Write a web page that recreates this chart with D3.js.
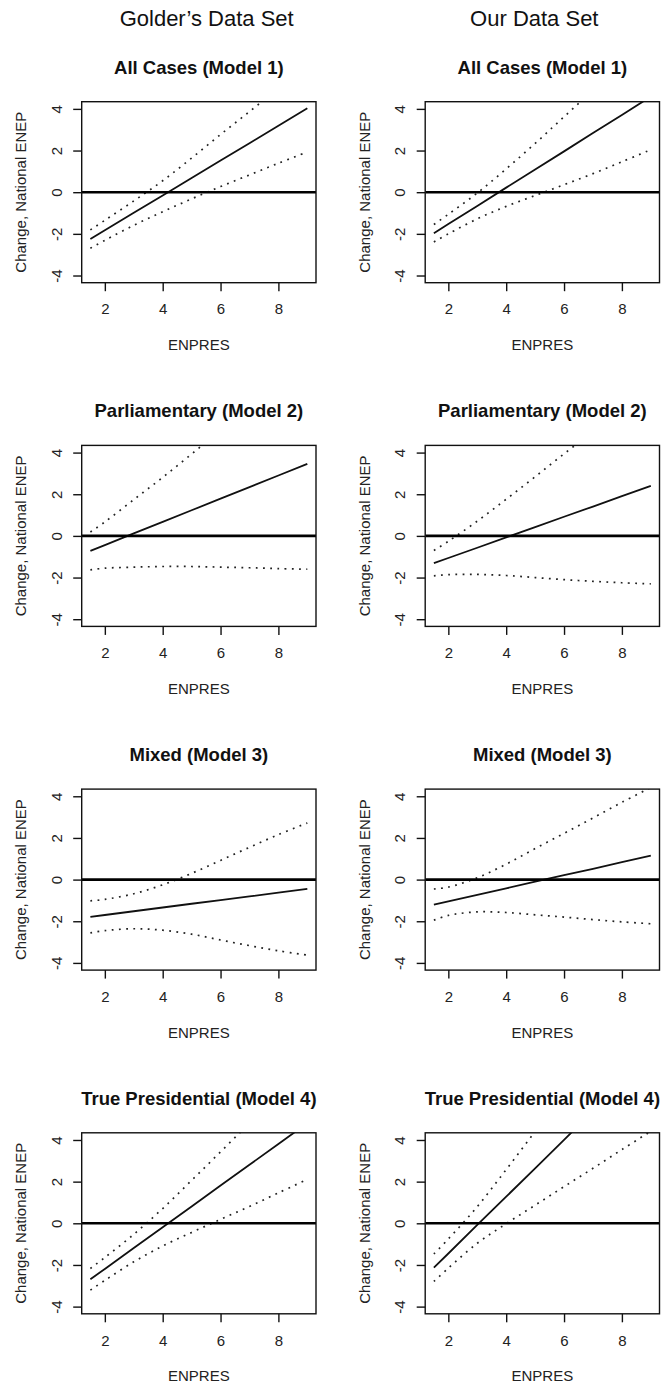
<!DOCTYPE html>
<html>
<head>
<meta charset="utf-8">
<script src="https://cdn.jsdelivr.net/npm/d3@7"></script>
<style>
  body { margin: 0; background: #fff; }
  svg { display: block; font-family: "Liberation Sans", Arial, Helvetica, sans-serif; }
</style>
</head>
<body>
<div id="chart"></div>
<script>
// values, one entry per ENPRES point
const enpres = [1.5, 2, 3, 4, 5, 6, 7, 8, 9];

const columnTitles = ["Golder\u2019s Data Set", "Our Data Set"];
const panelTitles = ["All Cases (Model 1)", "Parliamentary (Model 2)", "Mixed (Model 3)", "True Presidential (Model 4)"];
const xTicks = [2, 4, 6, 8];
const yTicks = [-4, -2, 0, 2, 4];

// Golder's data set, models 1..4
const golderEst = [
    [-2.25, -1.83, -0.99, -0.16, 0.68, 1.52, 2.35, 3.19, 4.03],
    [-0.72, -0.44, 0.12, 0.67, 1.23, 1.79, 2.34, 2.90, 3.46],
    [-1.79, -1.70, -1.52, -1.34, -1.16, -0.99, -0.81, -0.63, -0.45],
    [-2.69, -2.19, -1.19, -0.19, 0.81, 1.81, 2.81, 3.81, 4.81]
];
const golderLower = [
    [-2.69, -2.31, -1.59, -0.94, -0.32, 0.27, 0.83, 1.39, 1.93],
    [-1.63, -1.55, -1.50, -1.47, -1.47, -1.50, -1.53, -1.57, -1.60],
    [-2.56, -2.45, -2.36, -2.43, -2.62, -2.90, -3.17, -3.42, -3.62],
    [-3.21, -2.74, -1.85, -1.09, -0.44, 0.19, 0.81, 1.46, 2.11]
];
const golderUpper = [
    [-1.81, -1.35, -0.42, 0.55, 1.64, 2.77, 3.87, 4.99, 6.13],
    [0.19, 0.67, 1.74, 2.81, 3.93, 5.08, 6.21, 7.37, 8.52],
    [-1.02, -0.95, -0.68, -0.25, 0.30, 0.92, 1.55, 2.16, 2.72],
    [-2.17, -1.64, -0.53, 0.71, 2.06, 3.43, 4.81, 6.16, 7.51]
];

// our data set, models 1..4
const oursEst = [
    [-1.97, -1.53, -0.66, 0.22, 1.09, 1.96, 2.84, 3.71, 4.59],
    [-1.31, -1.06, -0.57, -0.07, 0.42, 0.92, 1.41, 1.91, 2.40],
    [-1.20, -1.04, -0.73, -0.42, -0.10, 0.21, 0.52, 0.84, 1.15],
    [-2.13, -1.45, -0.08, 1.28, 2.64, 4.01, 5.37, 6.74, 8.10]
];
const oursLower = [
    [-2.39, -2.00, -1.28, -0.68, -0.16, 0.36, 0.89, 1.46, 2.04],
    [-1.92, -1.86, -1.85, -1.90, -2.00, -2.10, -2.18, -2.25, -2.30],
    [-1.95, -1.72, -1.55, -1.58, -1.69, -1.80, -1.92, -2.03, -2.12],
    [-2.79, -2.15, -0.96, -0.02, 0.87, 1.76, 2.64, 3.54, 4.42]
];
const oursUpper = [
    [-1.55, -1.06, -0.04, 1.12, 2.34, 3.62, 4.88, 5.96, 7.14],
    [-0.70, -0.26, 0.71, 1.76, 2.84, 3.94, 5.00, 6.07, 7.10],
    [-0.45, -0.36, 0.09, 0.74, 1.49, 2.22, 2.96, 3.71, 4.42],
    [-1.47, -0.75, 0.80, 2.58, 4.41, 6.26, 8.10, 9.94, 11.78]
];

const width = 662, height = 1387;
const boxW = 234.3, boxH = 181;
const colLeft = [81.7, 425.2];
const colHeaderX = [206.7, 534.3];
const rowTop = [101.7, 445.4, 789.1, 1132.8];

const svg = d3.select("#chart").append("svg")
    .attr("width", width)
    .attr("height", height);

svg.append("rect").attr("width", width).attr("height", height).attr("fill", "#fff");

// column headers
columnTitles.forEach((t, i) => {
    svg.append("text")
        .attr("x", colHeaderX[i])
        .attr("y", 25.8)
        .attr("text-anchor", "middle")
        .attr("font-size", 22)
        .attr("fill", "#111")
        .text(t);
});

const x = d3.scaleLinear().domain([1.2, 9.3]).range([0, boxW]);
const y = d3.scaleLinear().domain([-4.345, 4.345]).range([boxH, 0]);

const datasets = [
    { est: golderEst, lo: golderLower, hi: golderUpper },
    { est: oursEst, lo: oursLower, hi: oursUpper }
];

datasets.forEach((ds, col) => {
    panelTitles.forEach((title, row) => {
        drawPanel(col, row, title, ds.est[row], ds.lo[row], ds.hi[row]);
    });
});

function drawPanel(col, row, title, est, lo, hi) {
    const g = svg.append("g")
        .attr("transform", `translate(${colLeft[col]},${rowTop[row]})`);
    const clipId = `clip-${col}-${row}`;

    g.append("clipPath").attr("id", clipId)
        .append("rect").attr("width", boxW).attr("height", boxH);

    // panel title
    g.append("text")
        .attr("x", boxW / 2)
        .attr("y", -28)
        .attr("text-anchor", "middle")
        .attr("font-size", 18.5)
        .attr("font-weight", "bold")
        .attr("fill", "#111")
        .text(title);

    // x axis, ticks only (the box draws the line)
    const xAxis = g.append("g")
        .attr("transform", `translate(0,${boxH})`)
        .call(d3.axisBottom(x).tickValues(xTicks).tickSize(8.5).tickSizeOuter(0).tickFormat(d => String(d)));
    xAxis.select(".domain").remove();
    xAxis.selectAll("line").attr("stroke", "#111").attr("stroke-width", 1.4);
    xAxis.selectAll("text")
        .attr("y", 31.8)
        .attr("dy", null)
        .attr("font-size", 15)
        .attr("font-family", null)
        .attr("fill", "#222");

    const yAxis = g.append("g")
        .call(d3.axisLeft(y).tickValues(yTicks).tickSize(8.5).tickSizeOuter(0).tickFormat(d => String(d)));
    yAxis.select(".domain").remove();
    yAxis.selectAll("line").attr("stroke", "#111").attr("stroke-width", 1.4);
    yAxis.selectAll("text")
        .attr("x", null)
        .attr("dy", null)
        .attr("text-anchor", "middle")
        .attr("transform", "translate(-20,0) rotate(-90)")
        .attr("font-size", 15)
        .attr("font-family", null)
        .attr("fill", "#222");
    svg.selectAll(".tick text").attr("font-family", null);
    g.selectAll(".domain").remove();
    g.selectAll("g").attr("font-family", null);

    // axis titles
    g.append("text")
        .attr("x", boxW / 2)
        .attr("y", boxH + 67.5)
        .attr("text-anchor", "middle")
        .attr("font-size", 15)
        .attr("fill", "#222")
        .text("ENPRES");

    g.append("text")
        .attr("transform", `translate(-55.5,${boxH / 2}) rotate(-90)`)
        .attr("text-anchor", "middle")
        .attr("font-size", 15)
        .attr("fill", "#222")
        .text("Change, National ENEP");

    const plot = g.append("g").attr("clip-path", `url(#${clipId})`);

    const band = d3.line()
        .x((d, i) => x(enpres[i]))
        .y(d => y(d))
        .curve(d3.curveCatmullRom);

    [lo, hi].forEach(arr => {
        plot.append("path")
            .datum(arr)
            .attr("d", band)
            .attr("fill", "none")
            .attr("stroke", "#222")
            .attr("stroke-width", 1.7)
            .attr("stroke-dasharray", "1.8,5.4");
    });

    plot.append("path")
        .datum(est)
        .attr("d", d3.line().x((d, i) => x(enpres[i])).y(d => y(d)))
        .attr("fill", "none")
        .attr("stroke", "#111")
        .attr("stroke-width", 1.8);

    // reference line at zero
    plot.append("line")
        .attr("x1", 0).attr("x2", boxW)
        .attr("y1", y(0)).attr("y2", y(0))
        .attr("stroke", "#000")
        .attr("stroke-width", 2.6);

    g.append("rect")
        .attr("width", boxW)
        .attr("height", boxH)
        .attr("fill", "none")
        .attr("stroke", "#111")
        .attr("stroke-width", 1.4);
}
</script>
</body>
</html>
